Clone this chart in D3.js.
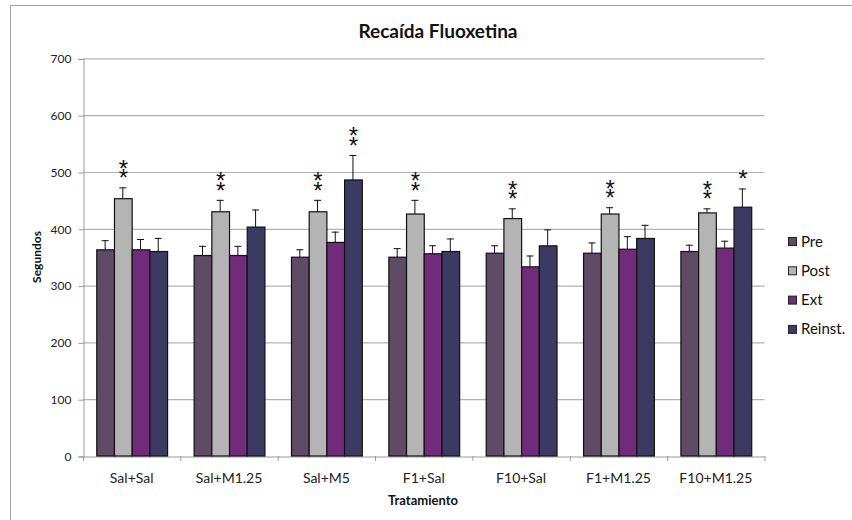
<!DOCTYPE html>
<html><head><meta charset="utf-8">
<script src="https://cdn.jsdelivr.net/npm/d3@7/dist/d3.min.js"></script>
<style>body{margin:0;background:#fff}svg{display:block;font-family:Lato,"Open Sans",sans-serif}</style>
</head><body><svg id="c" width="852" height="520"></svg>
<script>
const categories = ["Sal+Sal","Sal+M1.25","Sal+M5","F1+Sal","F10+Sal","F1+M1.25","F10+M1.25"];
const seriesNames = ["Pre","Post","Ext","Reinst."];
const preVals    = [363,353,350,350,357,357,360];
const postVals   = [453,430,430,426,418,426,428];
const extVals    = [363,353,376,356,333,364,366];
const reinstVals = [360,403,486,360,370,383,438];
const preErr    = [17,17,14,16,14,19,12];
const postErr   = [20,21,21,25,18,12,8];
const extErr    = [19,17,19,15,20,23,13];
const reinstErr = [24,31,44,23,29,24,33];
// significance marks: [category index, series index, number of asterisks]
const marks = [[0,1,2],[1,1,2],[2,1,2],[2,3,2],[3,1,2],[4,1,2],[5,1,2],[6,1,2],[6,3,1]];
const yTicks = [0,100,200,300,400,500,600,700];
const colors = ["#5f4b66","#b4b4b4","#722b7a","#3c3a62"];

const values = [preVals, postVals, extVals, reinstVals];
const errs = [preErr, postErr, extErr, reinstErr];

const svg = d3.select("#c");
const pLeft = 83, pRight = 764.5, pTop = 58.4, pBottom = 456;

svg.append("rect").attr("x",10.5).attr("y",5.5).attr("width",860).attr("height",530)
  .attr("fill","none").attr("stroke","#a6a6a6");

const x = d3.scaleBand().domain(categories).range([pLeft,pRight]).paddingInner(1.5/5.5).paddingOuter(0.75/5.5);
const xs = d3.scaleBand().domain(seriesNames).range([0,x.bandwidth()]);
const y = d3.scaleLinear().domain([0,700]).range([pBottom,pTop]);

// gridlines
svg.append("g").selectAll("line").data(yTicks.filter(d=>d>0)).join("line")
  .attr("x1",pLeft).attr("x2",pRight).attr("y1",d=>y(d)+0.5).attr("y2",d=>y(d)+0.5)
  .attr("stroke","#b3b3b3").attr("stroke-width",1.2);

// y axis
const ya = svg.append("g").attr("transform",`translate(${pLeft+0.5},0.5)`)
  .call(d3.axisLeft(y).tickValues(yTicks).tickSize(5).tickPadding(7));
ya.select(".domain").attr("stroke","#999");
ya.selectAll(".tick line").attr("stroke","#999");
ya.selectAll("text").attr("font-size",12).attr("fill","#222").attr("font-family","Lato,sans-serif");

// x axis
const xa = svg.append("g").attr("transform",`translate(0,${pBottom+0.5})`)
  .call(d3.axisBottom(x).tickSize(0).tickPadding(17));
xa.select(".domain").attr("stroke","#999");
xa.selectAll("text").attr("font-size",14).attr("fill","#222").attr("font-family","Lato,sans-serif");
const step = x.step();
svg.append("g").selectAll("line").data(d3.range(categories.length+1)).join("line")
  .attr("x1",i=>pLeft+0.5+i*step).attr("x2",i=>pLeft+0.5+i*step)
  .attr("y1",pBottom).attr("y2",pBottom+5).attr("stroke","#999");

// bars
const rows = [];
categories.forEach((c,ci)=>seriesNames.forEach((s,si)=>rows.push({c,ci,s,si,v:values[si][ci],e:errs[si][ci]})));
const g = svg.append("g");
g.selectAll("line.err").data(rows).join("line").attr("class","err")
  .attr("x1",d=>x(d.c)+xs(d.s)+xs.bandwidth()/2).attr("x2",d=>x(d.c)+xs(d.s)+xs.bandwidth()/2)
  .attr("y1",d=>y(d.v)).attr("y2",d=>y(d.v+d.e)).attr("stroke","#111").attr("stroke-width",1);
g.selectAll("line.cap").data(rows).join("line").attr("class","cap")
  .attr("x1",d=>x(d.c)+xs(d.s)+xs.bandwidth()/2-3.5).attr("x2",d=>x(d.c)+xs(d.s)+xs.bandwidth()/2+3.5)
  .attr("y1",d=>y(d.v+d.e)+0.5).attr("y2",d=>y(d.v+d.e)+0.5).attr("stroke","#111").attr("stroke-width",1);
g.selectAll("rect").data(rows).join("rect")
  .attr("x",d=>x(d.c)+xs(d.s)+0.5).attr("width",xs.bandwidth())
  .attr("y",d=>y(d.v)).attr("height",d=>y(0)-y(d.v))
  .attr("fill",d=>colors[d.si]).attr("stroke","#111").attr("stroke-width",1.2);

// asterisks (one text per mark, stacked via tspans)
marks.forEach(([ci,si,n])=>{
  const cx = x(categories[ci])+xs(seriesNames[si])+xs.bandwidth()/2+0.5;
  const topY = y(values[si][ci]+errs[si][ci]);
  const t = svg.append("text").attr("x",cx).attr("y",topY-1-(n-1)*9.5)
    .attr("text-anchor","middle").attr("font-size",24).attr("font-family","Liberation Sans,Arial,sans-serif")
    .attr("fill","#111");
  for(let k=0;k<n;k++){
    t.append("tspan").attr("x",cx).attr("dy",k===0?0:9.5).text("*");
  }
});

// title
svg.append("text").attr("x",438).attr("y",38).attr("text-anchor","middle")
  .attr("font-size",19).attr("font-weight","bold").attr("fill","#111").text("Recaída Fluoxetina");
// axis titles
svg.append("text").attr("x",423).attr("y",505).attr("text-anchor","middle")
  .attr("font-size",13).attr("font-weight","bold").attr("fill","#111").text("Tratamiento");
svg.append("text").attr("transform","translate(41,257) rotate(-90)").attr("text-anchor","middle")
  .attr("font-size",12).attr("font-weight","bold").attr("fill","#111").text("Segundos");

// legend
const lg = svg.append("g").attr("transform","translate(788,237)");
seriesNames.forEach((s,i)=>{
  lg.append("rect").attr("x",0.5).attr("y",i*29.3+0.5).attr("width",8).attr("height",8)
    .attr("fill",colors[i]).attr("stroke","#222");
  lg.append("text").attr("x",13).attr("y",i*29.3+9.5).attr("font-size",15).attr("fill","#111").text(s);
});
</script></body></html>
